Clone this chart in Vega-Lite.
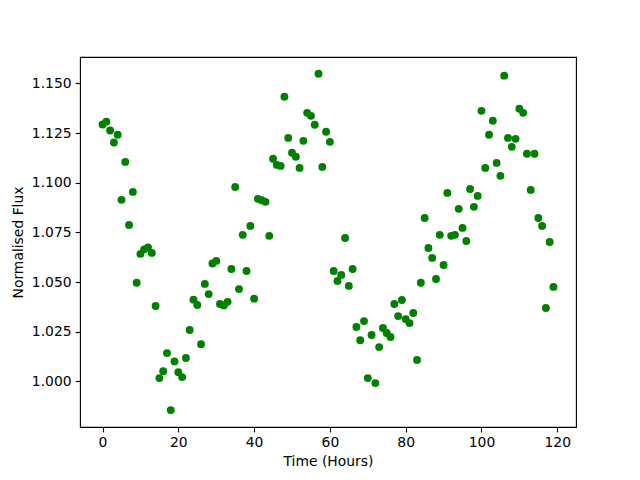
{
  "$schema": "https://vega.github.io/schema/vega-lite/v6.json",
  "autosize": {"type": "none"},
  "width": 496,
  "height": 370,
  "padding": {"left": 80, "top": 57, "right": 64, "bottom": 53},
  "background": "white",
  "config": {
    "view": {"stroke": "black", "strokeWidth": 1.1},
    "font": "DejaVu Sans",
    "axis": {
      "grid": false,
      "domain": false,
      "tickColor": "black",
      "tickSize": 4.9,
      "tickWidth": 1.1,
      "labelFont": "DejaVu Sans",
      "labelFontSize": 13.9,
      "labelColor": "black",
      "labelPadding": 4,
      "titleFont": "DejaVu Sans",
      "titleFontSize": 13.9,
      "titleFontWeight": "normal",
      "titleColor": "black"
    }
  },
  "data": {
    "values": [
      {"t": 0, "f": 1.1293}, {"t": 1, "f": 1.1307}, {"t": 2, "f": 1.1263}, {"t": 3, "f": 1.1203},
      {"t": 4, "f": 1.1242}, {"t": 5, "f": 1.0914}, {"t": 6, "f": 1.1105}, {"t": 7, "f": 1.0788},
      {"t": 8, "f": 1.0954}, {"t": 9, "f": 1.0497}, {"t": 10, "f": 1.0642}, {"t": 11, "f": 1.0665},
      {"t": 12, "f": 1.0675}, {"t": 13, "f": 1.0647}, {"t": 14, "f": 1.038}, {"t": 15, "f": 1.0017},
      {"t": 16, "f": 1.0052}, {"t": 17, "f": 1.0143}, {"t": 18, "f": 0.9856}, {"t": 19, "f": 1.0101},
      {"t": 20, "f": 1.0047}, {"t": 21, "f": 1.0022}, {"t": 22, "f": 1.0118}, {"t": 23, "f": 1.0259},
      {"t": 24, "f": 1.0412}, {"t": 25, "f": 1.0385}, {"t": 26, "f": 1.0188}, {"t": 27, "f": 1.0491},
      {"t": 28, "f": 1.044}, {"t": 29, "f": 1.0594}, {"t": 30, "f": 1.0607}, {"t": 31, "f": 1.039},
      {"t": 32, "f": 1.0383}, {"t": 33, "f": 1.0401}, {"t": 34, "f": 1.0566}, {"t": 35, "f": 1.0979},
      {"t": 36, "f": 1.0465}, {"t": 37, "f": 1.0738}, {"t": 38, "f": 1.0556}, {"t": 39, "f": 1.0783},
      {"t": 40, "f": 1.0417}, {"t": 41, "f": 1.0919}, {"t": 42, "f": 1.0912}, {"t": 43, "f": 1.0904},
      {"t": 44, "f": 1.0733}, {"t": 45, "f": 1.1121}, {"t": 46, "f": 1.109}, {"t": 47, "f": 1.1085},
      {"t": 48, "f": 1.1433}, {"t": 49, "f": 1.1226}, {"t": 50, "f": 1.1151}, {"t": 51, "f": 1.1131},
      {"t": 52, "f": 1.1075}, {"t": 53, "f": 1.1211}, {"t": 54, "f": 1.1352}, {"t": 55, "f": 1.1337},
      {"t": 56, "f": 1.1292}, {"t": 57, "f": 1.1549}, {"t": 58, "f": 1.108}, {"t": 59, "f": 1.1257},
      {"t": 60, "f": 1.1206}, {"t": 61, "f": 1.0556}, {"t": 62, "f": 1.0506}, {"t": 63, "f": 1.0536},
      {"t": 64, "f": 1.0722}, {"t": 65, "f": 1.0481}, {"t": 66, "f": 1.0566}, {"t": 67, "f": 1.0274},
      {"t": 68, "f": 1.0208}, {"t": 69, "f": 1.0304}, {"t": 70, "f": 1.0017}, {"t": 71, "f": 1.0234},
      {"t": 72, "f": 0.9992}, {"t": 73, "f": 1.0173}, {"t": 74, "f": 1.0269}, {"t": 75, "f": 1.0244},
      {"t": 76, "f": 1.0224}, {"t": 77, "f": 1.039}, {"t": 78, "f": 1.0329}, {"t": 79, "f": 1.041},
      {"t": 80, "f": 1.0314}, {"t": 81, "f": 1.0294}, {"t": 82, "f": 1.0345}, {"t": 83, "f": 1.0108},
      {"t": 84, "f": 1.0497}, {"t": 85, "f": 1.0823}, {"t": 86, "f": 1.0672}, {"t": 87, "f": 1.0622},
      {"t": 88, "f": 1.0516}, {"t": 89, "f": 1.0738}, {"t": 90, "f": 1.0586}, {"t": 91, "f": 1.0949},
      {"t": 92, "f": 1.0733}, {"t": 93, "f": 1.0738}, {"t": 94, "f": 1.0869}, {"t": 95, "f": 1.0773},
      {"t": 96, "f": 1.0707}, {"t": 97, "f": 1.0969}, {"t": 98, "f": 1.0879}, {"t": 99, "f": 1.0934},
      {"t": 100, "f": 1.1362}, {"t": 101, "f": 1.1075}, {"t": 102, "f": 1.1242}, {"t": 103, "f": 1.1312},
      {"t": 104, "f": 1.11}, {"t": 105, "f": 1.1035}, {"t": 106, "f": 1.1539}, {"t": 107, "f": 1.1226},
      {"t": 108, "f": 1.1181}, {"t": 109, "f": 1.1221}, {"t": 110, "f": 1.1373}, {"t": 111, "f": 1.1352},
      {"t": 112, "f": 1.1146}, {"t": 113, "f": 1.0964}, {"t": 114, "f": 1.1146}, {"t": 115, "f": 1.0823},
      {"t": 116, "f": 1.0783}, {"t": 117, "f": 1.037}, {"t": 118, "f": 1.0702}, {"t": 119, "f": 1.0476}
    ]
  },
  "mark": {"type": "point", "filled": true, "opacity": 1, "color": "#008000", "size": 62},
  "encoding": {
    "x": {
      "field": "t",
      "type": "quantitative",
      "title": "Time (Hours)",
      "scale": {"domain": [-5.95, 124.95], "nice": false, "zero": false},
      "axis": {"values": [0, 20, 40, 60, 80, 100, 120], "titlePadding": 5}
    },
    "y": {
      "field": "f",
      "type": "quantitative",
      "title": "Normalised Flux",
      "scale": {"domain": [0.9771, 1.1633], "nice": false, "zero": false},
      "axis": {"values": [1.0, 1.025, 1.05, 1.075, 1.1, 1.125, 1.15], "format": ".3f", "titlePadding": 6}
    }
  }
}
